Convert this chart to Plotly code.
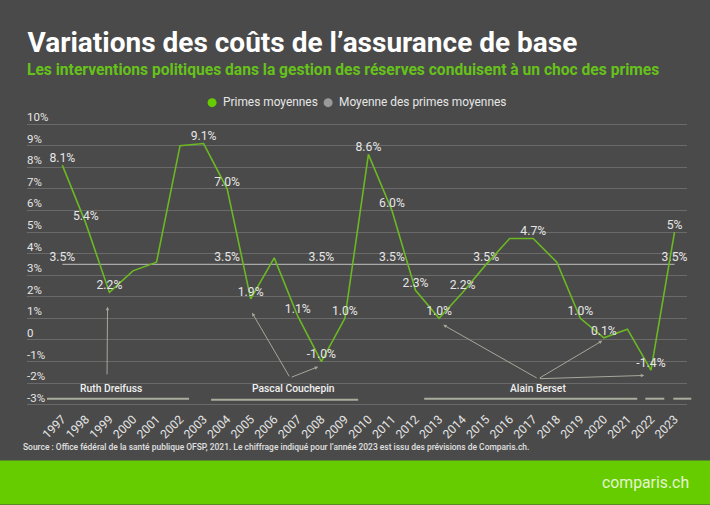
import plotly.graph_objects as go

# Data
years = list(range(1997, 2024))
primes = [8.1, 5.4, 2.2, 3.2, 3.6, 9.0, 9.1, 7.0, 1.9, 3.8, 1.1, -1.0, 1.0, 8.6, 6.0, 2.3, 1.0, 2.2,
          3.5, 4.7, 4.7, 3.6, 1.0, 0.1, 0.5, -1.4, 5.0]
primes_labels = ['8.1%', '5.4%', '2.2%', '', '', '', '9.1%', '7.0%', '1.9%', '', '1.1%', '-1.0%', '1.0%',
                 '8.6%', '6.0%', '2.3%', '1.0%', '2.2%', '', '', '4.7%', '', '1.0%', '0.1%', '', '-1.4%', '5%']
mean_values = [3.5] * 27
mean_labels = ['3.5%', '', '', '', '', '', '', '3.5%', '', '', '', '3.5%', '', '', '3.5%', '', '', '',
               '3.5%', '', '', '', '', '', '', '', '3.5%']
y_ticks = list(range(-3, 11))
y_ticktext = ['-3%', '-2%', '-1%', '0', '1%', '2%', '3%', '4%', '5%', '6%', '7%', '8%', '9%', '10%']

W, H = 710, 505
# plot area in page pixels: 10% sits at y=124, -3% at y=405
LEFT, RIGHT, TOP, BOTTOM = 27, 686.7, 108.87, 409.32
BG = '#4a4a4a'
GREEN = '#6bb823'
TEXT = '#e6e6e6'
RULE = '#a9ad9c'
ARROW = '#a5a89a'


# pixel position in the page -> paper coordinates
def px(x):
    return (x - LEFT) / (RIGHT - LEFT)


def py(y):
    return (BOTTOM - y) / (BOTTOM - TOP)


fig = go.Figure()

fig.add_trace(go.Scatter(
    x=years, y=mean_values, mode='lines+text', name='Moyenne des primes moyennes',
    line=dict(color='#a8a8a8', width=1.2),
    text=mean_labels, textposition='top center',
    textfont=dict(family='Roboto', size=12.2, color=TEXT),
    showlegend=False, cliponaxis=False, hoverinfo='skip'
))
fig.add_trace(go.Scatter(
    x=years, y=primes, mode='lines+text', name='Primes moyennes',
    line=dict(color=GREEN, width=1.6),
    text=primes_labels, textposition='top center',
    textfont=dict(family='Roboto', size=12.2, color=TEXT),
    showlegend=False, cliponaxis=False, hoverinfo='skip'
))

shapes = [
    # green footer
    dict(type='rect', xref='paper', yref='paper', x0=px(0), x1=px(W), y0=py(461), y1=py(H),
         fillcolor='#66cc00', line=dict(width=0), layer='below'),
    # legend dots
    dict(type='circle', xref='paper', yref='paper', x0=px(207.5), x1=px(216.5), y0=py(98), y1=py(107),
         fillcolor='#66cc00', line=dict(width=0)),
    dict(type='circle', xref='paper', yref='paper', x0=px(323.5), x1=px(332.5), y0=py(98), y1=py(107),
         fillcolor='#9a9a9a', line=dict(width=0)),
]

# rules under the names of the ministers
for x0, x1, y in [(47, 189, 399), (211, 358, 400), (424, 637, 399), (645, 664, 399), (673, 691, 399)]:
    shapes.append(dict(type='line', xref='paper', yref='paper', x0=px(x0), x1=px(x1), y0=py(y), y1=py(y),
                       line=dict(color=RULE, width=2)))

annotations = []


def add_text(x, y, text, size, color=TEXT, anchor='left', weight=400):
    annotations.append(dict(xref='paper', yref='paper', x=px(x), y=py(y), text=text, showarrow=False,
                            xanchor=anchor, yanchor='middle',
                            font=dict(family='Roboto', size=size, color=color, weight=weight)))


add_text(25, 70, '<b>Les interventions politiques dans la gestion des réserves conduisent à un choc des primes</b>',
         15.6, color='#66c21a')
add_text(221, 102, 'Primes moyennes', 11.9)
add_text(337, 102, 'Moyenne des primes moyennes', 11.9)
add_text(111, 389, 'Ruth Dreifuss', 10.3, color='#f0f0f0', anchor='center', weight=500)
add_text(293, 389, 'Pascal Couchepin', 10.3, color='#f0f0f0', anchor='center', weight=500)
add_text(538, 389, 'Alain Berset', 10.3, color='#f0f0f0', anchor='center', weight=500)
add_text(21, 447, 'Source : Office fédéral de la santé publique OFSP, 2021. '
         'Le chiffrage indiqué pour l’année 2023 est issu des prévisions de Comparis.ch.', 8.45,
         color='#e0e0e0', weight=500)
add_text(691, 483, 'comparis.ch', 15.8, color='#e4f5d0', anchor='right')

# arrows from the names to the years
for tail, tip in [((107, 376), (107.5, 307)),
                  ((290, 378), (252, 313)), ((290, 378), (318, 367)),
                  ((538, 379), (443, 325)), ((538, 379), (602, 341)), ((538, 379), (644, 375.7))]:
    annotations.append(dict(xref='paper', yref='paper', axref='pixel', ayref='pixel',
                            x=px(tip[0]), y=py(tip[1]), ax=tail[0] - tip[0], ay=tail[1] - tip[1], text='',
                            showarrow=True, arrowhead=2, arrowsize=0.7, arrowwidth=1, arrowcolor=ARROW))

fig.update_layout(
    width=W, height=H,
    margin=dict(l=LEFT, r=W - RIGHT, t=TOP, b=H - BOTTOM, pad=0),
    paper_bgcolor=BG, plot_bgcolor=BG,
    showlegend=False,
    title=dict(text='<b>Variations des coûts de l’assurance de base</b>', xref='paper', yref='container',
               x=px(27.5), xanchor='left', y=1 - 42 / H, yanchor='middle',
               font=dict(family='Roboto', size=28, color='white')),
    shapes=shapes, annotations=annotations,
    xaxis=dict(range=[1995.5, 2023.53], tickmode='array', tickvals=years, ticktext=[str(y) for y in years],
               tickangle=-45, showgrid=False, zeroline=False, showline=False, ticks='', ticklen=0,
               tickfont=dict(family='Roboto', size=12, color=TEXT)),
    yaxis=dict(range=[-3.2, 10.7], tickmode='array', tickvals=y_ticks, ticktext=y_ticktext,
               ticklabelposition='inside', ticklabelshift=-7, ticklabelstandoff=-3, ticks='', ticklen=0,
               showgrid=True, gridcolor='#6a6a6a', gridwidth=1, zeroline=False, showline=False,
               tickfont=dict(family='Roboto', size=11.5, color=TEXT)),
)

fig.write_html("out.html", config=dict(displayModeBar=False), post_script="document.body.style.margin='0';")
